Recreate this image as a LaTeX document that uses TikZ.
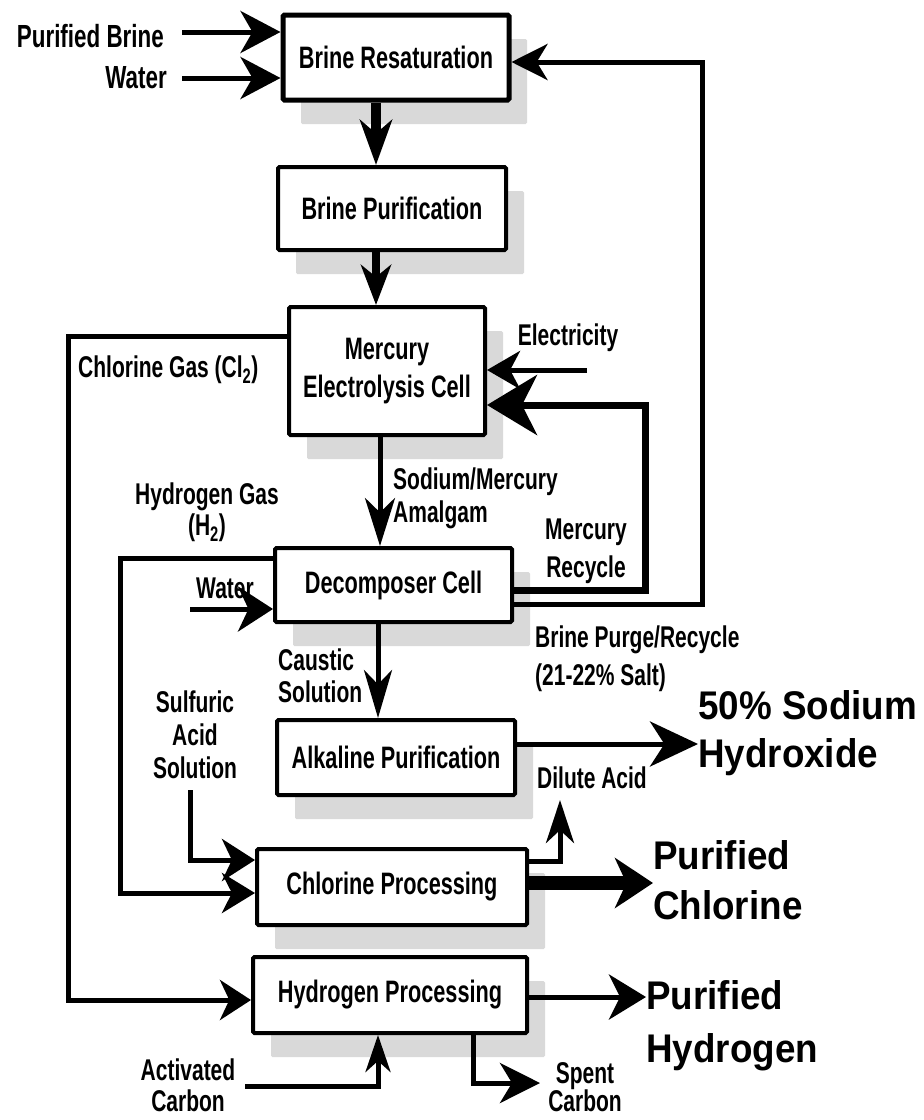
\documentclass[tikz,border=0pt]{standalone}
\usepackage{fontspec}
\setmainfont{Liberation Sans}[FakeStretch=0.70]
\newfontfamily\widefont{Liberation Sans}[FakeStretch=0.92]
\usetikzlibrary{arrows.meta,shadows}

\tikzset{
  box/.style={draw, line width=4pt, fill=white, rounded corners=1.5pt, align=center, inner sep=0pt,
    font=\fontsize{31}{38}\selectfont\bfseries,
    drop shadow={shadow xshift=18pt, shadow yshift=-24pt, fill=gray!30, opacity=1}},
  lbl/.style={font=\fontsize{30}{33}\selectfont\bfseries, inner sep=0pt},
  product/.style={font=\widefont\fontsize{40}{48}\selectfont\bfseries, align=left, inner sep=0pt, anchor=west},
  link/.style={line width=5pt},
  flowtip/.style 2 args={-{Stealth[length=#1pt,width=#2pt,inset=0.3*#1pt]}},
}

\begin{document}
\begin{tikzpicture}[x=1pt, y=-1pt]
  \fill[white] (0,0) rectangle (924,1120);
  \useasboundingbox (0,0) rectangle (924,1120);

  % process boxes
  \node[box, line width=5pt, minimum width=226pt, minimum height=85pt] (res) at (396,57.5) {Brine Resaturation};
  \node[box, minimum width=228pt, minimum height=83pt] (pur) at (392,208.5) {Brine Purification};
  \node[box, minimum width=196pt, minimum height=128pt] (cell) at (387,371) {Mercury\\Electrolysis Cell};
  \node[box, minimum width=237pt, minimum height=74pt] (dec) at (393.5,585) {Decomposer Cell};
  \node[box, minimum width=238pt, minimum height=75pt] (alk) at (396,757.5) {Alkaline Purification};
  \node[box, minimum width=270pt, minimum height=76pt] (chl) at (392,887) {Chlorine Processing};
  \node[box, minimum width=274pt, minimum height=76pt] (hyd) at (390,995) {Hydrogen Processing};

  % labels
  \node[lbl, font=\fontsize{32}{33}\selectfont\bfseries, anchor=east] (pbrine) at (164,36) {Purified Brine};
  \node[lbl, font=\fontsize{32}{33}\selectfont\bfseries, anchor=east] (water) at (167,78) {Water};
  \node[lbl] (elec) at (568,338) {Electricity};
  \node[lbl, anchor=west] (clgas) at (78,370) {Chlorine Gas (Cl\textsubscript{2})};
  \node[lbl, align=center, font=\fontsize{30}{38}\selectfont\bfseries] (hgrec) at (586,551) {Mercury\\Recycle};
  \node[lbl, align=left, anchor=west] (amal) at (393,498) {Sodium/Mercury\\Amalgam};
  \node[lbl, align=center, font=\fontsize{30}{31}\selectfont\bfseries] (hgas) at (207,512) {Hydrogen Gas\\(H\textsubscript{2})};
  \node[lbl] (water2) at (225,588) {Water};
  \node[lbl, align=left, anchor=west, font=\fontsize{30}{38}\selectfont\bfseries] (purge) at (535,659) {Brine Purge/Recycle\\(21-22\% Salt)};
  \node[lbl, align=left, anchor=west, font=\fontsize{30}{32}\selectfont\bfseries] (caustic) at (278,676) {Caustic\\Solution};
  \node[lbl, align=center] (acid) at (195,735) {Sulfuric\\Acid\\Solution};
  \node[lbl] (dilute) at (592,778) {Dilute Acid};
  \node[lbl, align=center, font=\fontsize{30}{31}\selectfont\bfseries] (actc) at (188,1085) {Activated\\Carbon};
  \node[lbl, align=center, font=\fontsize{30}{28}\selectfont\bfseries] (spent) at (585,1087) {Spent\\Carbon};

  % products
  \node[product] (naoh) at (698,733) {50\% Sodium\\Hydroxide};
  \node[product, font=\widefont\fontsize{40}{50}\selectfont\bfseries] (pcl) at (653,880) {Purified\\Chlorine};
  \node[product, font=\widefont\fontsize{40}{53}\selectfont\bfseries] (ph2) at (646,1026) {Purified\\Hydrogen};

  % main flow
  \draw[line width=10pt, flowtip={45}{32}] (376,0 |- res.south) -- (376,0 |- pur.north);
  \draw[line width=8pt, flowtip={40}{30}] (376,0 |- pur.south) -- (376,0 |- cell.north);
  \draw[link, flowtip={48}{30}] (380,0 |- cell.south) -- (380,0 |- dec.north);
  \draw[link, flowtip={48}{28}] (378,0 |- dec.south) -- (378,0 |- alk.north);

  % feeds
  \draw[link, flowtip={40}{42}] (182,32) -- (res.west |- 0,32);
  \draw[link, flowtip={40}{42}] (182,78) -- (res.west |- 0,78);
  \draw[link, flowtip={33}{38}] (587,370) -- (cell.east |- 0,370);
  \draw[link, flowtip={35}{45}] (190,609) -- (dec.west |- 0,609);
  \draw[link, flowtip={33}{42}] (190,790) |- (chl.west |- 0,860);
  \draw[link, flowtip={37}{25}] (245,1086) -| (378,0 |- hyd.south);

  % recycle loops and gases
  \draw[line width=7pt, flowtip={50}{60}] (dec.east |- 0,590) -| (645,405) -- (cell.east |- 0,405);
  \draw[link, flowtip={36}{36}] (dec.east |- 0,604) -| (702,62) -- (res.east |- 0,62);
  \draw[link, flowtip={31}{40}] (cell.west |- 0,336) -| (68,1000) -- (hyd.west |- 0,1000);
  \draw[link, flowtip={33}{40}] (dec.west |- 0,558) -| (120,893) -- (chl.west |- 0,893);

  % products out
  \draw[link, flowtip={48}{45}] (alk.east |- 0,744) -- (naoh.west |- 0,744);
  \draw[link, flowtip={43}{28}] (chl.east |- 0,861) -| (560,800);
  \draw[line width=14pt, flowtip={38}{50}] (chl.east |- 0,883) -- (pcl.west |- 0,883);
  \draw[link, flowtip={37}{45}] (hyd.east |- 0,997) -- (ph2.west |- 0,997);
  \draw[link, flowtip={40}{40}] (473,0 |- hyd.south) |- (540,1083);
\end{tikzpicture}
\end{document}
